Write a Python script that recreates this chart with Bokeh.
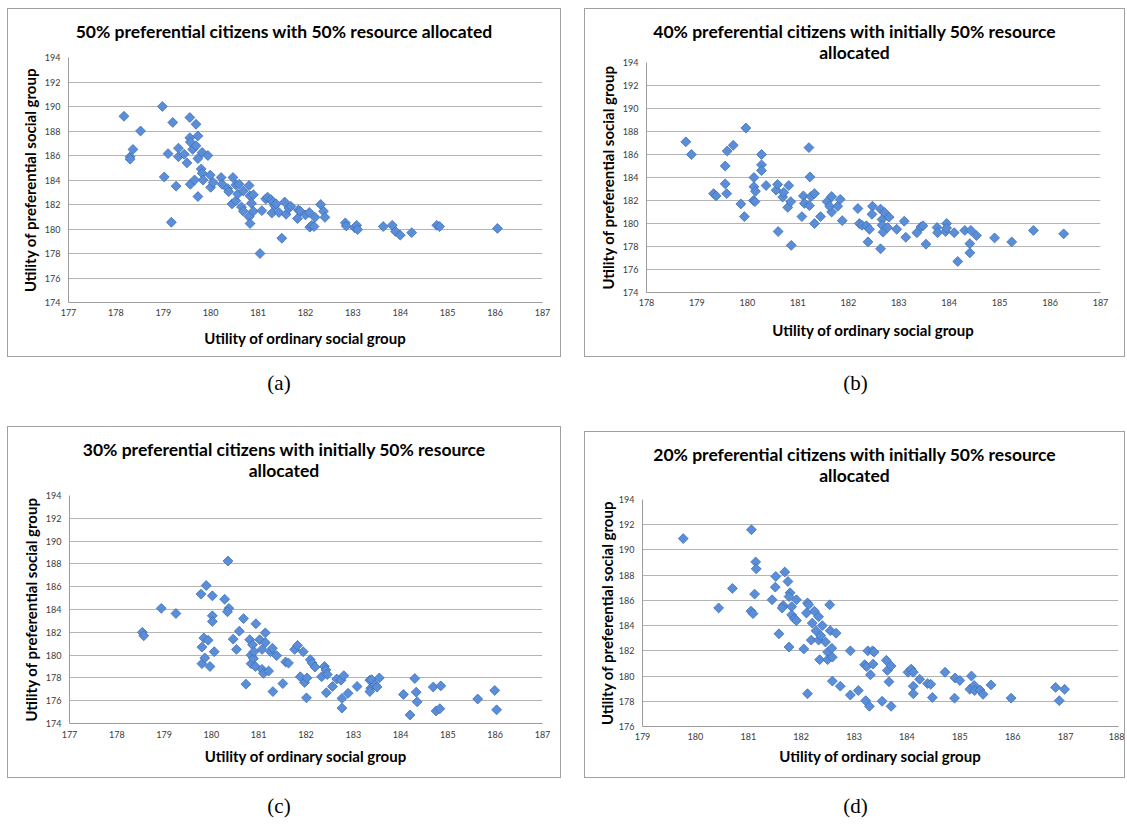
import math
from bokeh.plotting import figure
from bokeh.models import Range1d, FixedTicker, Div
from bokeh.layouts import row, column
from bokeh.embed import file_html
from bokeh.resources import INLINE

# ---------------- data ----------------
a_title = ["50% preferential citizens with 50% resource allocated"]
b_title = ["40% preferential citizens with initially 50% resource", "allocated"]
c_title = ["30% preferential citizens with initially 50% resource", "allocated"]
d_title = ["20% preferential citizens with initially 50% resource", "allocated"]
x_label = "Utility of ordinary social group"
y_label = "Utility of preferential social group"
captions = ["(a)", "(b)", "(c)", "(d)"]

a_xticks = [177, 178, 179, 180, 181, 182, 183, 184, 185, 186, 187]
b_xticks = [178, 179, 180, 181, 182, 183, 184, 185, 186, 187]
c_xticks = [177, 178, 179, 180, 181, 182, 183, 184, 185, 186, 187]
d_xticks = [179, 180, 181, 182, 183, 184, 185, 186, 187, 188]
a_yticks = [174, 176, 178, 180, 182, 184, 186, 188, 190, 192, 194]
b_yticks = [174, 176, 178, 180, 182, 184, 186, 188, 190, 192, 194]
c_yticks = [174, 176, 178, 180, 182, 184, 186, 188, 190, 192, 194]
d_yticks = [176, 178, 180, 182, 184, 186, 188, 190, 192, 194]

a_x = [178.17, 178.30, 178.30, 178.36, 178.52, 178.98, 179.02, 179.10, 179.20, 179.17,
       179.27, 179.32, 179.32, 179.44, 179.50, 179.56, 179.56, 179.57, 179.57, 179.62,
       179.66, 179.69, 179.69, 179.73, 179.73, 179.73, 179.80, 179.82, 179.82, 179.84,
       179.94, 179.99, 180.00, 180.05, 180.22, 180.24, 180.36, 180.38, 180.47, 180.45,
       180.53, 180.53, 180.57, 180.60, 180.65, 180.69, 180.69, 180.81, 180.83, 180.86,
       180.90, 180.81, 180.83, 180.90, 181.04, 181.08, 181.16, 181.20, 181.27, 181.29,
       181.31, 181.35, 181.38, 181.44, 181.50, 181.56, 181.59, 181.65, 181.69, 181.83,
       181.85, 181.89, 182.00, 182.08, 182.09, 182.13, 182.18, 182.20, 182.32, 182.38,
       182.41, 182.84, 182.86, 183.04, 183.08, 183.10, 183.64, 183.83, 183.90, 184.00,
       184.24, 184.77, 184.83, 186.05]
a_y = [189.2, 185.9, 185.7, 186.5, 188.0, 190.0, 184.25, 186.15, 188.7, 180.55,
       183.5, 186.6, 185.9, 186.1, 185.4, 189.1, 187.45, 187.1, 183.65, 186.5,
       184.0, 188.55, 186.8, 187.6, 185.75, 182.65, 184.9, 184.55, 186.25, 184.0,
       186.0, 184.4, 183.4, 183.8, 184.2, 183.65, 183.3, 183.05, 184.2, 182.05,
       183.6, 182.3, 182.85, 183.65, 181.8, 183.1, 181.45, 183.55, 182.7, 182.1,
       182.8, 181.0, 180.45, 181.45, 178.0, 181.5, 182.45, 182.6, 182.4, 181.3,
       182.2, 181.9, 182.05, 181.35, 179.25, 182.2, 181.2, 181.7, 181.85, 180.85,
       181.55, 181.45, 181.15, 181.35, 180.15, 180.3, 180.2, 180.95, 182.0, 181.45,
       180.95, 180.5, 180.25, 180.1, 180.3, 179.95, 180.2, 180.3, 179.8, 179.5,
       179.7, 180.3, 180.2, 180.05]

b_x = [178.78, 178.89, 179.33, 179.38, 179.56, 179.56, 179.59, 179.60, 179.72, 179.87,
       179.94, 179.97, 180.13, 180.13, 180.16, 180.12, 180.15, 180.28, 180.28, 180.28,
       180.37, 180.57, 180.60, 180.61, 180.70, 180.72, 180.82, 180.80, 180.86, 180.87,
       181.08, 181.11, 181.13, 181.22, 181.24, 181.23, 181.26, 181.33, 181.33, 181.45,
       181.58, 181.67, 181.67, 181.63, 181.79, 181.84, 181.88, 182.19, 182.22, 182.27,
       182.36, 182.39, 182.42, 182.48, 182.47, 182.64, 182.64, 182.67, 182.67, 182.69,
       182.72, 182.78, 182.81, 182.96, 183.11, 183.14, 183.36, 183.44, 183.48, 183.54,
       183.76, 183.77, 183.93, 183.95, 183.95, 184.10, 184.17, 184.31, 184.41, 184.41,
       184.43, 184.54, 184.90, 185.24, 185.67, 186.27]
b_y = [187.1, 186.0, 182.6, 182.4, 185.0, 183.45, 182.6, 186.3, 186.8, 181.7,
       180.6, 188.3, 184.0, 183.2, 182.8, 182.0, 181.9, 186.0, 185.1, 184.6,
       183.3, 182.9, 183.4, 179.3, 182.3, 182.7, 183.3, 181.4, 181.9, 178.1,
       180.6, 182.4, 181.75, 186.6, 184.05, 181.55, 182.35, 182.6, 180.0, 180.6,
       181.9, 182.35, 181.0, 181.5, 181.5, 182.1, 180.25, 181.3, 180.0, 179.85,
       179.8, 178.4, 179.5, 181.5, 180.8, 181.25, 177.8, 180.35, 179.85, 179.25,
       180.95, 179.65, 180.55, 179.5, 180.2, 178.8, 179.2, 179.7, 179.8, 178.2,
       179.65, 179.2, 179.3, 180.0, 179.6, 179.2, 176.7, 179.4, 178.25, 177.45,
       179.4, 178.95, 178.75, 178.4, 179.4, 179.1]

c_x = [178.54, 178.57, 178.94, 179.25, 179.78, 179.89, 180.02, 180.28, 180.37, 180.34,
       180.35, 179.80, 179.84, 179.93, 179.80, 179.86, 179.97, 180.02, 180.02, 180.06,
       180.46, 180.53, 180.59, 180.68, 180.73, 180.81, 180.84, 180.84, 180.87, 180.89,
       180.93, 180.94, 180.90, 181.02, 181.07, 181.07, 181.10, 181.14, 181.14, 181.21,
       181.25, 181.29, 181.30, 181.38, 181.51, 181.57, 181.63, 181.76, 181.82, 181.88,
       181.94, 181.97, 182.02, 182.01, 182.09, 182.13, 182.19, 182.33, 182.39, 182.42,
       182.45, 182.43, 182.56, 182.65, 182.74, 182.80, 182.76, 182.76, 182.89, 183.08,
       183.35, 183.39, 183.37, 183.35, 183.46, 183.50, 183.55, 184.06, 184.30, 184.33,
       184.35, 184.20, 184.69, 184.85, 184.75, 184.83, 185.63, 185.99, 186.03]
c_y = [182.0, 181.7, 184.1, 183.65, 185.35, 186.1, 185.2, 184.9, 184.1, 183.8,
       188.25, 180.7, 181.5, 181.3, 179.25, 179.75, 179.0, 183.45, 182.95, 180.3,
       181.4, 180.5, 182.1, 183.2, 177.45, 181.35, 180.0, 179.25, 180.9, 179.7,
       179.0, 182.75, 180.3, 181.35, 180.5, 178.75, 178.4, 181.95, 181.1, 178.6,
       180.3, 180.6, 176.8, 179.95, 177.5, 179.4, 179.3, 180.5, 180.85, 178.1,
       180.3, 177.6, 178.0, 176.25, 179.6, 179.3, 178.95, 178.1, 179.0, 178.7,
       178.3, 176.7, 177.25, 177.9, 177.8, 178.2, 176.2, 175.35, 176.65, 177.25,
       177.8, 177.85, 177.1, 176.8, 177.4, 177.2, 178.0, 176.55, 177.95, 176.75,
       175.9, 174.75, 177.2, 177.3, 175.1, 175.3, 176.15, 176.9, 175.2]

d_x = [179.77, 180.44, 180.70, 181.06, 181.05, 181.09, 181.12, 181.14, 181.15, 181.45,
       181.51, 181.52, 181.58, 181.66, 181.64, 181.69, 181.75, 181.77, 181.79, 181.77,
       181.82, 181.82, 181.87, 181.91, 181.91, 182.05, 182.10, 182.12, 182.14, 182.12,
       182.19, 182.21, 182.25, 182.28, 182.33, 182.33, 182.35, 182.37, 182.40, 182.46,
       182.50, 182.50, 182.54, 182.55, 182.58, 182.59, 182.59, 182.66, 182.74, 182.93,
       182.93, 183.08, 183.20, 183.24, 183.22, 183.26, 183.29, 183.31, 183.35, 183.38,
       183.36, 183.53, 183.61, 183.63, 183.66, 183.70, 183.70, 184.02, 184.08, 184.12,
       184.12, 184.12, 184.24, 184.39, 184.45, 184.48, 184.72, 184.91, 184.90, 185.00,
       185.22, 185.19, 185.27, 185.28, 185.38, 185.44, 185.59, 185.97, 186.81, 186.98,
       186.88]
d_y = [190.9, 185.4, 186.95, 191.6, 185.15, 184.95, 186.5, 189.05, 188.5, 186.05,
       187.05, 187.9, 183.35, 185.6, 185.4, 188.25, 187.5, 182.3, 186.6, 186.3,
       185.5, 184.85, 184.55, 184.4, 186.05, 182.15, 185.0, 185.8, 185.65, 178.6,
       182.85, 184.2, 185.15, 183.6, 184.7, 182.85, 181.3, 183.2, 184.0, 182.7,
       181.9, 181.3, 185.65, 183.6, 182.2, 181.5, 179.6, 183.4, 179.2, 182.0,
       178.5, 178.85, 180.9, 180.75, 178.05, 182.0, 177.6, 180.1, 182.0, 181.9,
       180.95, 178.0, 181.25, 180.45, 179.55, 180.8, 177.6, 180.3, 180.55, 180.3,
       179.2, 178.6, 179.75, 179.4, 179.35, 178.3, 180.3, 179.85, 178.25, 179.65,
       180.0, 178.95, 179.25, 178.85, 178.9, 178.55, 179.3, 178.25, 179.1, 178.95,
       178.05]

# ---------------- styling ----------------
SANS = "Lato"
SERIF = "Liberation Serif"
MARK_FILL = "#5b8ed8"
MARK_LINE = "#3f6fb8"
GRID = "#b4b4b4"
AXIS = "#9c9c9c"
FRAME = "#a0a0a0"


def title_div(lines, width, height):
    html = "<br>".join(lines)
    inner = (f'<div style="width:{width}px;padding-top:11.5px;line-height:21.5px;'
             f'text-align:center;font-family:{SANS};font-weight:bold;'
             f'font-size:17.5px;color:#000;white-space:nowrap">{html}</div>')
    return Div(text=inner, width=width, height=height, margin=0,
               styles={"overflow": "visible"})


def panel(xs, ys, xticks, yticks, width, height, borders,
          x_std, x_lab_std, y_std, y_lab_std):
    left, right, top, bottom = borders
    p = figure(width=width, height=height,
               x_range=Range1d(xticks[0], xticks[-1]),
               y_range=Range1d(yticks[0], yticks[-1]),
               output_backend="svg", toolbar_location=None, title=None,
               min_border_left=left, min_border_right=right,
               min_border_top=top, min_border_bottom=bottom, margin=0)
    p.outline_line_color = None
    p.background_fill_color = "white"
    p.border_fill_color = None

    p.xaxis.ticker = FixedTicker(ticks=xticks, minor_ticks=[])
    p.yaxis.ticker = FixedTicker(ticks=yticks, minor_ticks=[])
    for ax in (p.xaxis, p.yaxis):
        ax.axis_line_color = AXIS
        ax.major_tick_line_color = None
        ax.minor_tick_line_color = None
        ax.major_tick_out = 0
        ax.major_tick_in = 0
        ax.major_label_text_font = SANS
        ax.major_label_text_font_size = "9px"
        ax.major_label_text_color = "#3a3a3a"
        ax.axis_label_text_font = SANS
        ax.axis_label_text_font_size = "15px"
        ax.axis_label_text_font_style = "bold"
        ax.axis_label_text_color = "black"
    p.xaxis.axis_label = x_label
    p.yaxis.axis_label = y_label
    p.xaxis.major_label_standoff = x_std
    p.xaxis.axis_label_standoff = x_lab_std
    p.yaxis.major_label_standoff = y_std
    p.yaxis.axis_label_standoff = y_lab_std

    p.xgrid.grid_line_color = None
    p.ygrid.grid_line_color = GRID
    p.ygrid.grid_line_width = 1

    p.scatter(xs, ys, marker="square", angle=math.pi / 4, size=7,
              fill_color=MARK_FILL, line_color=MARK_LINE, line_width=0.8)
    return p


def chart(lines, xs, ys, xticks, yticks, width, height, title_h, borders,
          x_std, x_lab_std, y_std, y_lab_std, margin):
    t = title_div(lines, width, title_h)
    p = panel(xs, ys, xticks, yticks, width, height - title_h, borders,
              x_std, x_lab_std, y_std, y_lab_std)
    return column(t, p, margin=margin,
                  styles={"border": f"1px solid {FRAME}", "background": "white"})


def caption(text, width, margin):
    return Div(text=text, width=width, height=30, margin=margin,
               styles={"font-family": f"'{SERIF}', serif", "font-size": "21px",
                       "text-align": "center", "line-height": "30px",
                       "color": "black"})


ca = chart(a_title, a_x, a_y, a_xticks, a_yticks, 552, 347, 40, (60, 18, 8, 54),
           6, 10, 8, 3, (8, 0, 0, 7))
cb = chart(b_title, b_x, b_y, b_xticks, b_yticks, 539, 347, 48, (61, 24, 5, 64),
           6, 12, 8, 3, (8, 0, 0, 23))
cc = chart(c_title, c_x, c_y, c_xticks, c_yticks, 552, 350, 50, (61, 18, 18, 54),
           7, 6, 8, 3, (28, 0, 0, 7))
cd = chart(d_title, d_x, d_y, d_xticks, d_yticks, 539, 345, 50, (57, 6, 17, 51),
           6, 4, 8, 0, (33, 0, 0, 23))

cap_row1 = row(caption(captions[0], 552, (11, 0, 0, 3)),
               caption(captions[1], 539, (11, 0, 0, 31)))
cap_row2 = row(caption(captions[2], 552, (13, 0, 0, 3)),
               caption(captions[3], 539, (13, 0, 0, 31)))

layout = column(row(ca, cb), cap_row1, row(cc, cd), cap_row2)

open("out.html", "w").write(file_html(layout, INLINE))
